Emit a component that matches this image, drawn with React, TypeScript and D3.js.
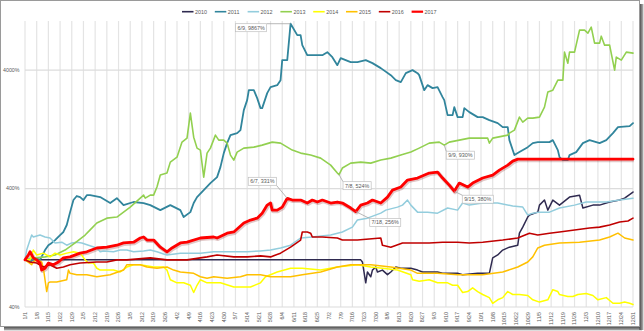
import React from "react";
import * as d3 from "d3";

// ---------- data ----------
const seriesNames = ["2010", "2011", "2012", "2013", "2014", "2015", "2016", "2017"];

const tickLabels = [
  "1/1", "1/8", "1/15", "1/22", "1/29", "2/5", "2/12", "2/19", "2/26", "3/5", "3/12", "3/19", "3/26",
  "4/2", "4/9", "4/16", "4/23", "4/30", "5/7", "5/14", "5/21", "5/28", "6/4", "6/11", "6/18", "6/25",
  "7/2", "7/9", "7/16", "7/23", "7/30", "8/6", "8/13", "8/20", "8/27", "9/3", "9/10", "9/17", "9/24",
  "10/1", "10/8", "10/15", "10/22", "10/29", "11/5", "11/12", "11/19", "11/26", "12/3", "12/10",
  "12/17", "12/24", "12/31",
];
const yTickValues = [40, 400, 4000];
const yTickLabels = ["40%", "400%", "4000%"];

// [day of year, value %]
const s2010: [number, number][] = [
  [0, 100], [201, 100], [202, 96], [204, 64], [205, 79], [207, 72], [208, 82], [210, 87], [211, 79],
  [214, 82], [217, 75], [219, 79], [222, 87], [225, 85], [231, 85], [235, 82], [238, 79], [247, 79],
  [250, 77], [259, 77], [262, 75], [271, 77], [278, 77], [280, 104], [283, 110], [286, 121], [290, 128],
  [295, 133], [296, 168], [298, 189], [301, 230], [302, 239], [307, 253], [308, 290], [311, 320],
  [313, 263], [316, 320], [320, 290], [326, 339], [332, 352], [334, 274], [340, 290], [344, 290],
  [350, 308], [356, 320], [359, 332], [364, 374],
];
const s2011: [number, number][] = [
  [0, 100], [3, 96], [6, 104], [9, 100], [12, 121], [14, 133], [16, 139], [18, 147], [21, 162], [23, 172],
  [25, 197], [27, 253], [29, 320], [31, 346], [33, 339], [35, 320], [37, 352], [39, 352], [45, 339],
  [51, 302], [55, 332], [59, 290], [65, 308], [71, 302], [75, 290], [81, 263], [87, 290], [93, 263],
  [95, 230], [99, 253], [101, 302], [103, 339], [107, 388], [111, 445], [115, 500], [117, 607],
  [119, 797], [121, 968], [123, 1131], [127, 1175], [129, 1246], [131, 1838], [133, 2233], [134, 2711],
  [137, 2711], [139, 2321], [141, 1911], [142, 1911], [145, 2560], [147, 2874], [151, 2988], [153, 3293],
  [154, 4857], [157, 4857], [159, 9867], [163, 7897], [165, 7897], [166, 6502], [169, 5353], [178, 5353],
  [181, 5674], [184, 5149], [187, 4408], [189, 5050], [195, 4673], [199, 4673], [204, 4857], [208, 4583],
  [213, 4160], [219, 3629], [222, 3293], [225, 3170], [228, 3773], [232, 4000], [235, 3773], [236, 3629],
  [239, 2711], [241, 2988], [244, 2819], [247, 2874], [250, 2367], [251, 2233], [253, 1668], [256, 1668],
  [257, 1948], [259, 1605], [262, 1605], [263, 1911], [266, 1769], [271, 1605], [274, 1605], [278, 1514],
  [283, 1428], [286, 1321], [289, 1321], [290, 1026], [293, 767], [296, 813], [301, 895], [304, 968],
  [307, 987], [314, 987], [316, 1026], [319, 845], [320, 737], [322, 696], [325, 696], [326, 767],
  [330, 813], [334, 968], [338, 1026], [344, 968], [348, 1026], [352, 1175], [355, 1321], [362, 1347],
  [364, 1428],
];
const s2012: [number, number][] = [
  [0, 100], [1, 121], [4, 162], [5, 156], [9, 162], [12, 156], [15, 153], [18, 139], [22, 141], [25, 133],
  [28, 139], [31, 141], [34, 139], [38, 133], [43, 126], [45, 117], [47, 119], [53, 117], [57, 121],
  [61, 121], [65, 117], [71, 119], [75, 121], [79, 117], [83, 112], [85, 110], [93, 114], [101, 114],
  [105, 114], [113, 117], [125, 117], [133, 117], [141, 119], [147, 121], [153, 126], [159, 133],
  [165, 153], [172, 156], [183, 162], [190, 172], [196, 189], [199, 217], [205, 225], [213, 248],
  [216, 263], [223, 279], [226, 290], [229, 320], [231, 290], [235, 253], [241, 253], [247, 248],
  [253, 274], [259, 263], [262, 302], [266, 290], [274, 302], [283, 302], [292, 285], [298, 279],
  [301, 239], [304, 248], [308, 253], [314, 253], [320, 274], [329, 290], [336, 308], [348, 308],
  [356, 320], [364, 332],
];
const s2013: [number, number][] = [
  [0, 100], [6, 104], [12, 106], [18, 110], [24, 121], [30, 139], [36, 162], [39, 179], [43, 205],
  [49, 225], [55, 230], [59, 253], [63, 279], [69, 332], [71, 352], [72, 332], [75, 352], [77, 352],
  [79, 412], [81, 520], [85, 541], [87, 669], [91, 737], [94, 987], [97, 1066], [99, 1734], [101, 1087],
  [103, 878], [105, 845], [107, 500], [109, 797], [111, 878], [114, 1131], [116, 1026], [119, 1026],
  [121, 968], [123, 767], [125, 696], [127, 813], [131, 878], [137, 895], [142, 931], [148, 987],
  [153, 968], [157, 895], [160, 845], [165, 797], [171, 767], [177, 723], [183, 631], [187, 541],
  [188, 524], [190, 596], [195, 656], [201, 669], [207, 656], [213, 696], [219, 723], [225, 767],
  [231, 813], [236, 878], [242, 968], [248, 987], [251, 930], [254, 987], [266, 1066], [277, 1066],
  [278, 968], [280, 1066], [289, 1131], [290, 1175], [293, 1246], [296, 1605], [298, 1456], [301, 1574],
  [304, 1574], [308, 1605], [311, 1948], [313, 2610], [316, 2711], [319, 3293], [322, 3293], [323, 5674],
  [325, 4583], [326, 5674], [329, 5674], [332, 8703], [335, 8703], [337, 8210], [339, 9229], [341, 6760],
  [344, 6760], [345, 7743], [347, 6502], [350, 6502], [353, 4000], [354, 5149], [357, 4857], [360, 5674],
  [364, 5565],
];
const s2014: [number, number][] = [
  [0, 100], [3, 100], [5, 121], [7, 110], [11, 114], [15, 106], [18, 114], [21, 110], [25, 114], [29, 117],
  [33, 114], [36, 100], [38, 94], [41, 94], [43, 85], [45, 82], [49, 82], [53, 82], [57, 79], [61, 87],
  [65, 91], [69, 91], [77, 87], [83, 87], [85, 82], [87, 68], [91, 64], [95, 64], [99, 61], [101, 53],
  [103, 61], [105, 68], [109, 64], [117, 64], [125, 59], [135, 59], [141, 64], [144, 72], [151, 79],
  [159, 85], [166, 85], [177, 82], [187, 87], [199, 91], [207, 87], [214, 85], [223, 82], [231, 75],
  [232, 68], [236, 66], [242, 68], [247, 64], [253, 64], [256, 61], [259, 61], [262, 53], [265, 54],
  [268, 58], [271, 54], [274, 51], [278, 48], [280, 43], [283, 46], [286, 48], [289, 54], [292, 51],
  [296, 51], [301, 50], [304, 46], [308, 44], [313, 46], [316, 56], [319, 54], [320, 51], [325, 49],
  [328, 49], [331, 51], [336, 52], [340, 50], [343, 46], [348, 48], [352, 43], [356, 43], [359, 44],
  [362, 43], [364, 42],
];
const s2015: [number, number][] = [
  [0, 100], [4, 91], [5, 96], [7, 100], [10, 96], [11, 85], [13, 54], [14, 64], [15, 65], [19, 65],
  [25, 68], [26, 82], [27, 77], [31, 75], [37, 75], [43, 72], [51, 75], [59, 82], [61, 91], [69, 91],
  [73, 87], [79, 85], [85, 87], [89, 82], [93, 79], [101, 77], [105, 72], [109, 70], [113, 72],
  [121, 70], [129, 72], [133, 75], [141, 75], [147, 72], [159, 72], [166, 75], [177, 79], [187, 87],
  [195, 91], [207, 91], [219, 87], [231, 82], [235, 77], [247, 77], [259, 75], [274, 75], [286, 79],
  [295, 87], [301, 96], [304, 106], [307, 126], [311, 133], [320, 139], [332, 141], [344, 147],
  [350, 156], [355, 168], [359, 153], [364, 147],
];
const s2016: [number, number][] = [
  [0, 100], [3, 96], [7, 94], [11, 87], [15, 91], [19, 85], [23, 87], [27, 91], [33, 94], [43, 96],
  [49, 96], [55, 100], [61, 100], [75, 104], [85, 100], [97, 100], [109, 106], [115, 110], [125, 106],
  [133, 106], [141, 108], [147, 106], [153, 114], [159, 128], [165, 147], [166, 172], [169, 172],
  [171, 168], [172, 156], [178, 156], [187, 153], [190, 147], [199, 147], [213, 153], [214, 133],
  [219, 128], [226, 139], [235, 139], [242, 139], [250, 141], [259, 141], [266, 139], [274, 141],
  [286, 147], [295, 153], [302, 168], [307, 162], [314, 168], [320, 172], [329, 179], [338, 186],
  [344, 189], [350, 197], [356, 209], [361, 213], [364, 225],
];
const s2017: [number, number][] = [
  [0, 100], [2, 110], [3, 117], [5, 104], [7, 100], [9, 94], [10, 82], [12, 85], [14, 94], [17, 91],
  [20, 96], [23, 104], [27, 106], [33, 114], [37, 117], [43, 126], [49, 128], [55, 133], [59, 139],
  [65, 141], [69, 153], [71, 156], [73, 147], [77, 147], [81, 128], [85, 117], [88, 126], [93, 139],
  [97, 141], [105, 153], [113, 156], [115, 153], [121, 168], [125, 172], [131, 205], [135, 217],
  [139, 225], [142, 248], [145, 290], [147, 302], [148, 263], [151, 263], [154, 279], [157, 331],
  [160, 320], [165, 320], [169, 302], [172, 320], [175, 308], [178, 320], [183, 302], [187, 308],
  [190, 302], [195, 274], [198, 256], [201, 290], [205, 302], [208, 320], [213, 302], [217, 339],
  [220, 388], [225, 412], [229, 472], [235, 491], [242, 541], [247, 551], [250, 491], [254, 428],
  [257, 380], [260, 445], [265, 412], [268, 445], [274, 491], [280, 520], [284, 573], [289, 631],
  [292, 682], [295, 709], [364, 709],
];
const allSeries = [s2010, s2011, s2012, s2013, s2014, s2015, s2016, s2017];

// data labels: [series index, day, value, text]
const callouts: [number, number, number, string][] = [
  [1, 159, 9867, "6/9, 9867%"],
  [7, 157, 331, "6/7, 331%"],
  [3, 188, 524, "7/8, 524%"],
  [7, 198, 256, "7/18, 256%"],
  [3, 251, 930, "9/9, 930%"],
  [7, 257, 380, "9/15, 380%"],
];

// ---------- styles / layout ----------
const colors = ["#2f2a50", "#31859c", "#93cddd", "#92d050", "#ffff00", "#ffc000", "#c00000", "#ff0000"];
const widths = [1.5, 1.8, 1.5, 1.6, 1.5, 1.5, 1.6, 2.8];
const calloutOffsets: [number, number][] = [
  [-55, 0], [-39, -21], [4, 7], [14, 7], [2, 6], [8, 4],
];

const FONT = "'Liberation Sans', Arial, sans-serif";
const TEXT = "#595959";

export default function App() {
  const W = 644;
  const H = 331;
  const left = 25, right = 633, top = 21, bottom = 307;
  const x = d3.scaleLinear().domain([0, 364]).range([left, right]);
  const y = d3.scaleLog().domain([40, 10400]).range([bottom, top]);
  const line = d3
    .line<[number, number]>()
    .x((d) => x(d[0]))
    .y((d) => y(d[1]));

  const legendX0 = 182;
  const legendStep = 32.8;

  return (
    <svg
      width={W}
      height={H}
      style={{ position: "absolute", left: 0, top: 0, background: "#fff" }}
      fontFamily={FONT}
    >
      <defs>
        <linearGradient id="shB" x1="0" y1="0" x2="0" y2="1">
          <stop offset="0" stopColor="#444" />
          <stop offset="1" stopColor="#bbb" />
        </linearGradient>
        <linearGradient id="shR" x1="0" y1="0" x2="1" y2="0">
          <stop offset="0" stopColor="#444" />
          <stop offset="1" stopColor="#bbb" />
        </linearGradient>
      </defs>
      <rect x={0} y={0} width={W} height={H} fill="#fff" />
      {/* frame + shadow */}
      <rect x={4} y={326.5} width={638} height={4} fill="url(#shB)" />
      <rect x={639.5} y={4} width={4} height={326} fill="url(#shR)" />
      <rect x={0.5} y={0.5} width={639} height={326} fill="#fff" stroke="#9a9a9a" strokeWidth={1} />

      {/* vertical grid */}
      {tickLabels.map((t, i) => (
        <line
          key={"vg" + i}
          x1={x(i * 7)}
          x2={x(i * 7)}
          y1={top}
          y2={bottom}
          stroke="#e4e4e4"
          strokeWidth={1.2}
        />
      ))}
      {/* horizontal grid */}
      {yTickValues.map((v, i) => (
        <line
          key={"hg" + i}
          x1={left}
          x2={right}
          y1={y(v)}
          y2={y(v)}
          stroke="#dcdcdc"
          strokeWidth={1.2}
        />
      ))}
      {/* y labels */}
      {yTickValues.map((v, i) => (
        <text
          key={"yl" + i}
          x={19.5}
          y={y(v)}
          dy="0.35em"
          textAnchor="end"
          fontSize={5.3}
          fill={TEXT}
        >
          {yTickLabels[i]}
        </text>
      ))}
      {/* x labels */}
      {tickLabels.map((t, i) => (
        <text
          key={"xl" + i}
          transform={`translate(${x(i * 7)},312) rotate(-90)`}
          dy="0.35em"
          textAnchor="end"
          fontSize={5.3}
          fill={TEXT}
        >
          {t}
        </text>
      ))}

      {/* shadow for 2017 */}
      <path
        d={line(s2017) || ""}
        fill="none"
        stroke="rgba(120,0,0,0.22)"
        strokeWidth={4}
        transform="translate(0.8,1)"
        strokeLinejoin="round"
      />
      {allSeries.map((s, i) => (
        <path
          key={"s" + i}
          d={line(s) || ""}
          fill="none"
          stroke={colors[i]}
          strokeWidth={widths[i]}
          strokeLinejoin="round"
          strokeLinecap="round"
        />
      ))}

      {/* callouts */}
      {callouts.map((c, i) => {
        const [, day, val, txt] = c;
        const px = x(day);
        const py = y(val);
        const [dx, dy] = calloutOffsets[i];
        const bw = txt.length * 2.85 + 2.5;
        const bh = 8;
        const bx = px + dx;
        const by = py + dy;
        // attach point: nearest box corner/edge to the data point
        const ax = Math.max(bx, Math.min(px, bx + bw));
        const ay = Math.max(by, Math.min(py, by + bh));
        return (
          <g key={"c" + i}>
            <line x1={ax} y1={ay} x2={px} y2={py} stroke="#a6a6a6" strokeWidth={0.8} />
            <rect x={bx} y={by} width={bw} height={bh} fill="#fff" stroke="#bfbfbf" strokeWidth={0.7} />
            <text
              x={bx + bw / 2}
              y={by + bh / 2}
              dy="0.35em"
              textAnchor="middle"
              fontSize={5.4}
              fill={TEXT}
            >
              {txt}
            </text>
          </g>
        );
      })}

      {/* legend */}
      {seriesNames.map((n, i) => {
        const lx = legendX0 + i * legendStep;
        return (
          <g key={"lg" + i}>
            <line
              x1={lx}
              x2={lx + 11.5}
              y1={11.7}
              y2={11.7}
              stroke={colors[i]}
              strokeWidth={i === 7 ? 2.2 : 1.6}
            />
            <text x={lx + 13} y={11.7} dy="0.35em" fontSize={5.4} fill={TEXT}>
              {n}
            </text>
          </g>
        );
      })}
    </svg>
  );
}
